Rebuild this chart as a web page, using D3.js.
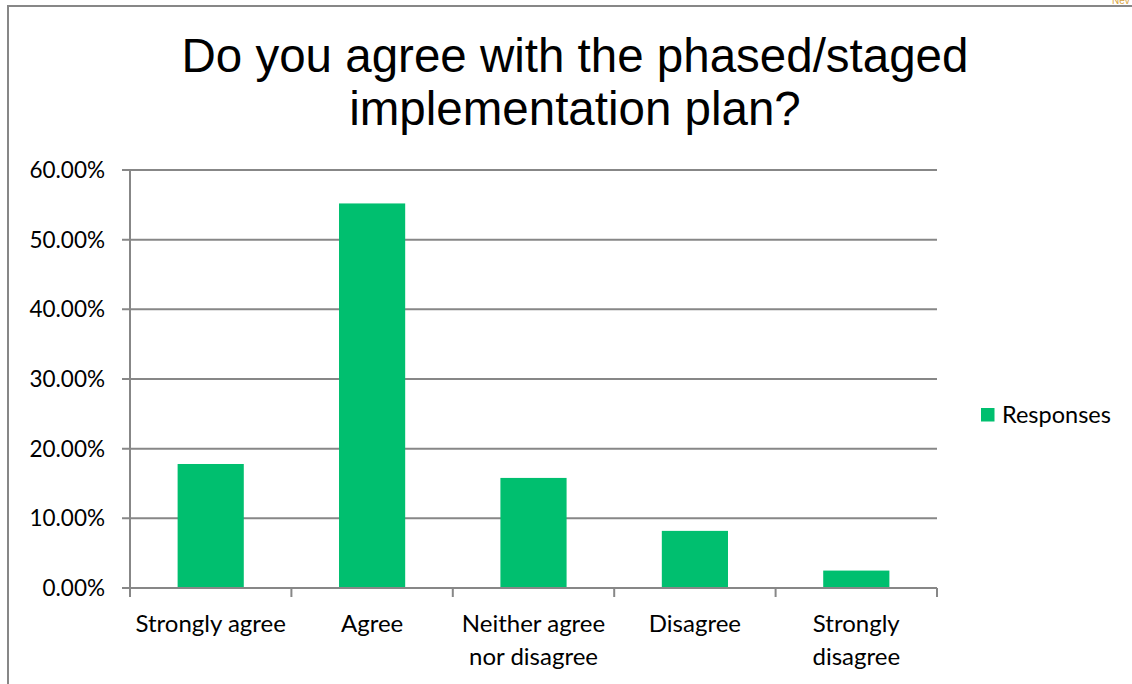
<!DOCTYPE html>
<html>
<head>
<meta charset="utf-8">
<script src="https://cdn.jsdelivr.net/npm/d3@7"></script>
<style>
  html, body { margin: 0; padding: 0; background: #fff; }
  svg { display: block; }
</style>
</head>
<body>
<div id="content"></div>
<script>
const categories = [['Strongly agree'], ['Agree'], ['Neither agree', 'nor disagree'], ['Disagree'], ['Strongly', 'disagree']]
const responses = [17.8, 55.2, 15.8, 8.2, 2.5]
const yTicks = [0, 10, 20, 30, 40, 50, 60]
const titleLines = ['Do you agree with the phased/staged', 'implementation plan?']
const seriesName = 'Responses'

const width = 1132
const height = 684
const plotLeft = 130
const plotRight = 937
const plotTop = 170
const plotBottom = 588
const green = '#00bf6f'
const axisGray = '#878787'
const labelFont = 'Lato, "Open Sans", sans-serif'

const svg = d3.select('#content')
    .append('svg')
    .attr('width', width)
    .attr('height', height)

// outer frame (top and left edges of the slide)
svg.append('path')
    .attr('d', `M8,${height} L8,6 L${width},6`)
    .attr('fill', 'none')
    .attr('stroke', axisGray)
    .attr('stroke-width', 2)

svg.append('text')
    .text('Nev')
    .attr('x', 1112)
    .attr('y', 4)
    .attr('font-size', 10)
    .attr('font-family', 'Arial, sans-serif')
    .attr('fill', '#d9a441')

// Title
svg.append('g')
    .selectAll('text')
    .data(titleLines)
    .join('text')
    .text(d => d)
    .attr('x', 575)
    .attr('y', (d, i) => 72 + i * 53)
    .attr('text-anchor', 'middle')
    .attr('font-size', 47.5)
    .attr('font-family', '"Liberation Sans", Arial, sans-serif')
    .attr('fill', '#000')

const scaleX = d3.scaleBand()
    .domain(d3.range(categories.length))
    .range([plotLeft, plotRight])
    .paddingInner(0.59)
    .paddingOuter(0.295)

const scaleY = d3.scaleLinear()
    .domain([0, 60])
    .range([plotBottom, plotTop])

// Gridlines
svg.append('g')
    .selectAll('line')
    .data(yTicks)
    .join('line')
    .attr('x1', plotLeft - 8)
    .attr('x2', plotRight)
    .attr('y1', d => scaleY(d))
    .attr('y2', d => scaleY(d))
    .attr('stroke', axisGray)
    .attr('stroke-width', 2)

// Y tick labels
svg.append('g')
    .selectAll('text')
    .data(yTicks)
    .join('text')
    .text(d => d.toFixed(2) + '%')
    .attr('x', 105)
    .attr('y', d => scaleY(d) + 8)
    .attr('text-anchor', 'end')
    .attr('font-size', 22.5)
    .attr('font-family', labelFont)
    .attr('fill', '#000')

// Bars
svg.append('g')
    .selectAll('rect')
    .data(responses)
    .join('rect')
    .attr('x', (d, i) => scaleX(i))
    .attr('width', scaleX.bandwidth())
    .attr('y', d => scaleY(d))
    .attr('height', d => scaleY(0) - scaleY(d))
    .attr('fill', green)

// Axes lines
svg.append('line')
    .attr('x1', plotLeft)
    .attr('x2', plotLeft)
    .attr('y1', plotTop)
    .attr('y2', plotBottom + 9)
    .attr('stroke', axisGray)
    .attr('stroke-width', 2)

svg.append('line')
    .attr('x1', plotLeft)
    .attr('x2', plotRight)
    .attr('y1', plotBottom)
    .attr('y2', plotBottom)
    .attr('stroke', axisGray)
    .attr('stroke-width', 2)

const step = (plotRight - plotLeft) / categories.length
svg.append('g')
    .selectAll('line')
    .data(d3.range(categories.length + 1))
    .join('line')
    .attr('x1', d => plotLeft + d * step)
    .attr('x2', d => plotLeft + d * step)
    .attr('y1', plotBottom)
    .attr('y2', plotBottom + 9)
    .attr('stroke', axisGray)
    .attr('stroke-width', 2)

// Category labels
svg.append('g')
    .selectAll('text')
    .data(categories)
    .join('text')
    .attr('x', (d, i) => scaleX(i) + scaleX.bandwidth() / 2)
    .attr('y', 632)
    .attr('text-anchor', 'middle')
    .attr('font-size', 24)
    .attr('font-family', labelFont)
    .attr('fill', '#000')
    .selectAll('tspan')
    .data(d => d)
    .join('tspan')
    .attr('x', function () { return this.parentNode.getAttribute('x') })
    .attr('dy', (d, i) => i === 0 ? 0 : 33)
    .text(d => d)

// Legend
const legend = svg.append('g')
    .attr('transform', 'translate(981, 408)')

legend.append('rect')
    .attr('width', 13.5)
    .attr('height', 13.5)
    .attr('fill', green)

legend.append('text')
    .text(seriesName)
    .attr('x', 21)
    .attr('y', 14.5)
    .attr('font-size', 23.5)
    .attr('font-family', labelFont)
    .attr('fill', '#000')
</script>
</body>
</html>
